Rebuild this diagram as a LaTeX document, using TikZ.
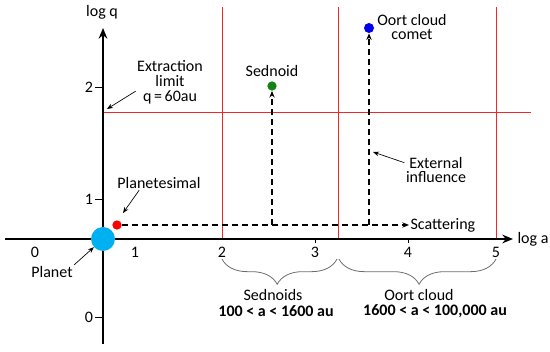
\documentclass[tikz,border=0pt]{standalone}
\usepackage{fontspec}
\setmainfont{Carlito}
\usetikzlibrary{arrows.meta,decorations.pathreplacing}
\definecolor{planetblue}{RGB}{0,176,240}
\definecolor{limitred}{RGB}{240,40,40}
\definecolor{sedgreen}{RGB}{20,130,20}
\definecolor{oortblue}{RGB}{0,0,240}
\definecolor{bracegray}{RGB}{110,110,110}
\tikzset{
    lbl/.style={
        font=\fontsize{12}{11.2}\selectfont,
        inner sep=1pt,
        align=center
    },
    axis/.style={line width=1.4pt,-{Stealth[length=8pt,width=6.5pt]}},
    bound/.style={limitred,line width=0.7pt},
    body/.style={circle,inner sep=0pt,minimum size=#1},
    dasharr/.style={dash pattern=on 4.5pt off 3pt,line width=0.8pt,-{Stealth[length=5pt,width=4pt]}},
    note/.style={line width=0.5pt,-{Stealth[length=4.5pt,width=3.5pt]}},
    brc/.style={decorate,decoration={brace,mirror,amplitude=19pt,aspect=#1},bracegray,line width=0.6pt}
}

\begin{document}
\begin{tikzpicture}[x=0.75pt,y=-0.75pt]
\useasboundingbox (0,0) rectangle (550,352);

% Region boundaries
\draw[bound] (222,7) -- (222,239);
\draw[bound] (338,7) -- (338,239);
\draw[bound] (496,7) -- (496,239);
\draw[bound] (103,112) -- (531,112);

% Axes
\coordinate (xs) at (5,239);
\coordinate (xe) at (513,239);
\coordinate (ys) at (103,344);
\coordinate (ye) at (103,28);
\draw[axis] (xs) -- (xe);
\draw[axis] (ys) -- (ye);
\node[lbl] (loga) at (533,239) {log a};
\node[lbl] (logq) at (102,12) {log q};

% Ticks
\foreach \xv/\lab in {35/0,135/1,222/2,315/3,408/4,496/5}
    \node[lbl] at (\xv,252) {\lab};
\foreach \yv/\lab in {87/2,199/1,317/0}{
    \node[lbl] at (89,\yv) {\lab};
    \draw[line width=0.5pt] (95,\yv) -- (102,\yv);
}
\draw[line width=0.5pt] (315,239) -- (315,243);
\draw[line width=0.5pt] (408,239) -- (408,243);

% Bodies
\node[body=18pt,fill=planetblue] (planet) at (103,239) {};
\node[body=7pt,fill=red] (ptsml) at (117,225) {};
\node[body=7pt,fill=sedgreen] (sednoid) at (272,86) {};
\node[body=7.5pt,fill=oortblue] (comet) at (369,28) {};

% Paths
\node[lbl,anchor=west] (scat) at (409,225) {Scattering};
\coordinate (bsed) at (272,225);
\coordinate (boort) at (369,225);
\draw[dasharr] (ptsml) -- (scat.west);
\draw[dasharr] (bsed) -- (sednoid);
\draw[dasharr] (boort) -- (comet);

% Labels
\node[lbl] (sedlbl) at (272,71) {Sednoid};
\node[lbl] (cometlbl) at (412,27) {Oort cloud\\comet};
\node[lbl] (ptlbl) at (159,183) {Planetesimal};
\node[lbl] (planetlbl) at (52,272) {Planet};
\node[lbl] (extr) at (170,82) {Extraction\\limit\\q\,=\,60au};
\node[lbl] (ext) at (436,170) {External\\influence};

\coordinate (ptip) at (123,213);
\coordinate (xtip) at (107,109);
\coordinate (etip) at (373,152);
\draw[note] (ptlbl.200) -- (ptip);
\draw[note] (planetlbl.north east) -- (planet);
\draw[note] (extr.195) -- (xtip);
\draw[note] (ext.167) -- (etip);

% Ranges
\coordinate (r1) at (222,259);
\coordinate (r2) at (337,259);
\coordinate (r3) at (339,259);
\coordinate (r4) at (496,259);
\draw[brc=0.48] (r1) -- (r2);
\draw[brc=0.51] (r3) -- (r4);
\node[lbl,inner sep=0pt] (sedsname) at (273,295) {Sednoids};
\node[lbl,inner sep=0pt] (sedsrange) at (276,311) {\bfseries 100 < a < 1600 au};
\node[lbl,inner sep=0pt] (oortname) at (419,295) {Oort cloud};
\node[lbl,inner sep=0pt] (oortrange) at (435,311) {\bfseries 1600 < a < 100,000 au};

\end{tikzpicture}
\end{document}
